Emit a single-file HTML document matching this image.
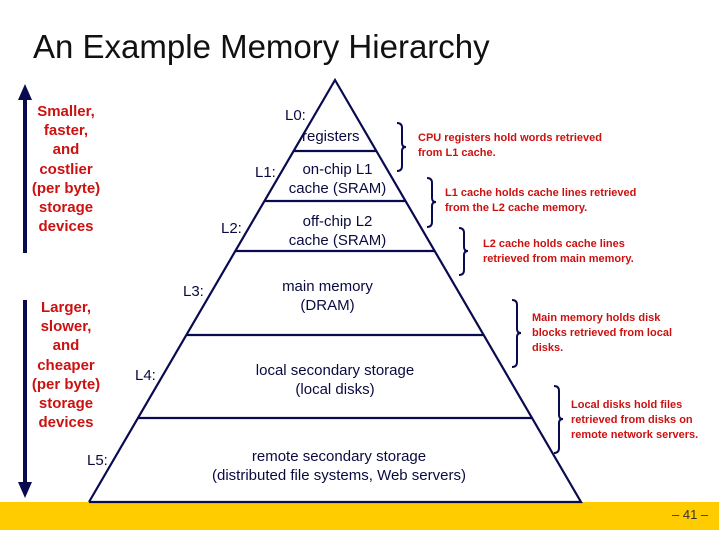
<!DOCTYPE html>
<html><head><meta charset="utf-8"><style>
html,body{margin:0;padding:0;background:#fff;}
body{width:719px;height:539px;position:relative;overflow:hidden;font-family:"Liberation Sans",sans-serif;}
.t{position:absolute;white-space:nowrap;}
.red{color:#cc1111;font-weight:bold;font-size:15px;text-align:center;line-height:19.2px;}
.note{color:#cc1111;font-weight:bold;font-size:11px;line-height:15px;position:absolute;white-space:nowrap;}
.lab{color:#0a0a40;font-size:15px;position:absolute;white-space:nowrap;}
.py{color:#0a0a40;font-size:15px;position:absolute;text-align:center;line-height:19px;white-space:nowrap;}
</style></head><body>
<div class="t" style="left:33px;top:28px;font-size:33px;color:#111;">An Example Memory Hierarchy</div>
<div style="position:absolute;left:0;top:502px;width:719px;height:28px;background:#ffcc00;"></div>
<div class="t" style="left:672px;top:507px;font-size:13px;color:#333;">– 41 –</div>
<svg width="719" height="539" style="position:absolute;left:0;top:0" xmlns="http://www.w3.org/2000/svg">
<g stroke="#0a0a50" stroke-width="2.2" fill="none">
<polyline points="89,502 335,80 581,502 89,502"/>
<line x1="294" y1="151" x2="376" y2="151"/>
<line x1="265" y1="201" x2="405" y2="201"/>
<line x1="236" y1="251" x2="434" y2="251"/>
<line x1="187" y1="335" x2="483" y2="335"/>
<line x1="138" y1="418" x2="532" y2="418"/>
</g>
<g stroke="#0a0a50" stroke-width="4">
<line x1="25" y1="98" x2="25" y2="253"/>
<line x1="25" y1="300" x2="25" y2="484"/>
</g>
<polygon points="18,100 25,84 32,100" fill="#0a0a50"/>
<polygon points="18,482 25,498 32,482" fill="#0a0a50"/>
<g stroke="#0a0a50" stroke-width="2" fill="none">
<path d="M397,123 Q402,123 402,128 L402,143 Q402,147 406,147 Q402,147 402,151 L402,166 Q402,171 397,171"/>
<path d="M427,178 Q432,178 432,183 L432,198 Q432,202 436,202 Q432,202 432,206 L432,222 Q432,227 427,227"/>
<path d="M459,228 Q464,228 464,233 L464,247 Q464,251 468,251 Q464,251 464,255 L464,270 Q464,275 459,275"/>
<path d="M512,300 Q517,300 517,305 L517,329 Q517,333 521,333 Q517,333 517,337 L517,362 Q517,367 512,367"/>
<path d="M554,386 Q559,386 559,391 L559,415 Q559,419 563,419 Q559,419 559,423 L559,448 Q559,453 554,453"/>
</g>
</svg>
<div class="t red" style="left:28px;top:102px;width:76px;">Smaller,<br>faster,<br>and<br>costlier<br>(per byte)<br>storage<br>devices</div>
<div class="t red" style="left:28px;top:298px;width:76px;">Larger,<br>slower,<br>and<br>cheaper<br>(per byte)<br>storage<br>devices</div>
<div class="lab" style="left:285px;top:107px;">L0:</div>
<div class="lab" style="left:255px;top:164px;">L1:</div>
<div class="lab" style="left:221px;top:220px;">L2:</div>
<div class="lab" style="left:183px;top:283px;">L3:</div>
<div class="lab" style="left:135px;top:367px;">L4:</div>
<div class="lab" style="left:87px;top:452px;">L5:</div>
<div class="py" style="left:302px;top:127px;">registers</div>
<div class="py" style="left:265px;top:160px;width:145px;">on-chip L1<br>cache (SRAM)</div>
<div class="py" style="left:265px;top:212px;width:145px;">off-chip L2<br>cache (SRAM)</div>
<div class="py" style="left:255px;top:277px;width:145px;">main memory<br>(DRAM)</div>
<div class="py" style="left:220px;top:361px;width:230px;">local secondary storage<br>(local disks)</div>
<div class="py" style="left:180px;top:447px;width:318px;">remote secondary storage<br>(distributed file systems, Web servers)</div>
<div class="note" style="left:418px;top:131px;">CPU registers hold words retrieved<br>from L1 cache.</div>
<div class="note" style="left:445px;top:186px;">L1 cache holds cache lines retrieved<br>from the L2 cache memory.</div>
<div class="note" style="left:483px;top:237px;">L2 cache holds cache lines<br>retrieved from main memory.</div>
<div class="note" style="left:532px;top:311px;">Main memory holds disk<br>blocks retrieved from local<br>disks.</div>
<div class="note" style="left:571px;top:398px;">Local disks hold files<br>retrieved from disks on<br>remote network servers.</div>
</body></html>
